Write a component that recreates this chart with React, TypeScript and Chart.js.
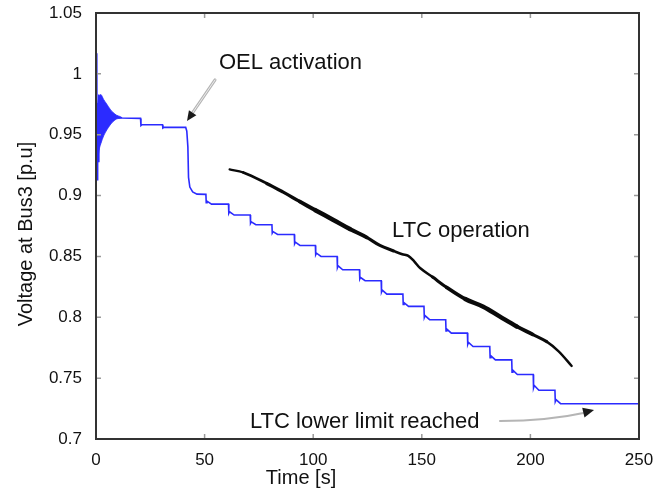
import React, { useEffect, useRef } from "react";
import { Chart, registerables } from "chart.js";

Chart.register(...registerables);

// ---- axis ticks ----
const xTicks = [0, 50, 100, 150, 200, 250];
const yTicks = [0.7, 0.75, 0.8, 0.85, 0.9, 0.95, 1, 1.05];
const yTickLabels = ["0.7", "0.75", "0.8", "0.85", "0.9", "0.95", "1", "1.05"];

// ---- initial oscillation band (envelope) ----
const oscTime = [0.6, 1.0, 1.6, 2.3, 3.5, 5, 6.5, 8, 9.5, 11, 12];
const oscHigh = [0.972, 0.978, 0.982, 0.983, 0.979, 0.975, 0.971, 0.968, 0.966, 0.965, 0.964];
const oscLow = [0.925, 0.932, 0.939, 0.943, 0.949, 0.954, 0.958, 0.961, 0.963, 0.9635, 0.964];

// ---- voltage at Bus3 (blue) ----
const blueTime = [
  0, 0.35, 0.5, 0.75, 1.0, 1.3, 2, 12, 20.5, 20.7, 21.2, 30.6, 30.8, 31.3, 41.3, 41.8, 42.3, 42.6, 43.2, 44.5, 46.5,
  50.6, 50.75, 51.1, 53.2,
  61.0, 61.15, 61.5, 63.6,
  71.0, 71.15, 71.5, 73.6,
  81.0, 81.15, 81.5, 83.6,
  91.3, 91.45, 91.8, 93.9,
  101.0, 101.15, 101.5, 103.6,
  111.0, 111.15, 111.5, 113.6,
  121.3, 121.45, 121.8, 123.9,
  131.3, 131.45, 131.8, 133.9,
  141.3, 141.45, 141.8, 143.9,
  151.0, 151.15, 151.5, 153.6,
  161.0, 161.15, 161.5, 163.6,
  171.0, 171.15, 171.5, 173.6,
  181.3, 181.45, 181.8, 183.9,
  191.4, 191.55, 191.9, 194.0,
  201.3, 201.45, 201.8, 203.9,
  211.3, 211.45, 211.8, 213.9,
  250,
];
const blueVolt = [
  1.017, 1.016, 0.913, 0.976, 0.928, 0.983, 0.965, 0.9637, 0.9634, 0.9575, 0.9582, 0.9582, 0.9555, 0.956, 0.956, 0.953, 0.94, 0.915, 0.907, 0.903, 0.9012,
  0.901, 0.8942, 0.8954, 0.893,
  0.893, 0.8854, 0.8867, 0.884,
  0.884, 0.8772, 0.8784, 0.876,
  0.876, 0.8692, 0.8704, 0.868,
  0.868, 0.8604, 0.8617, 0.859,
  0.859, 0.8514, 0.8527, 0.85,
  0.85, 0.8407, 0.8423, 0.839,
  0.839, 0.8314, 0.8327, 0.83,
  0.83, 0.8207, 0.8223, 0.819,
  0.819, 0.8105, 0.812, 0.809,
  0.809, 0.7997, 0.8013, 0.798,
  0.798, 0.7887, 0.7903, 0.787,
  0.787, 0.7777, 0.7793, 0.776,
  0.776, 0.7667, 0.7683, 0.765,
  0.765, 0.7548, 0.7566, 0.753,
  0.753, 0.742, 0.7439, 0.74,
  0.74, 0.7307, 0.7323, 0.729,
  0.729,
];

// ---- LTC operation curve (black) ----
const blackTime = [61.5, 67.8, 78.6, 86, 93.9, 101, 109.3, 116.9, 124.6, 130.7, 137, 141, 143.8, 146.5, 149.2, 155, 161.5, 170, 178.3, 186, 193.7, 201, 207.5, 213, 219];
const blackVolt = [0.9215, 0.919, 0.91, 0.903, 0.895, 0.888, 0.88, 0.8725, 0.8657, 0.859, 0.8545, 0.8518, 0.8505, 0.846, 0.8405, 0.833, 0.8245, 0.815, 0.8087, 0.8005, 0.7925, 0.786, 0.78, 0.772, 0.76];

// ---- annotations (data units) ----
const labelTexts = ["OEL activation", "LTC operation", "LTC lower limit reached"];
const labelTimes = [56.6, 136.3, 70.9];
const labelVolts = [1.004, 0.8662, 0.709];
const oelArrow = [[54.8, 0.995], [41.9, 0.9613]];
const limitArrow = [[186, 0.7148], [208, 0.7148], [229.3, 0.7238]];

const FONT = "'Liberation Sans', Arial, Helvetica, sans-serif";

const zip = (xs: number[], ys: number[]) => xs.map((x, i) => ({ x, y: ys[i] }));

function blackWidth(t: number): number {
  if (t < 72) return 2.2;
  if (t < 82) return 2.7;
  if (t < 90) return 3.3;
  if (t < 98) return 3.9;
  if (t < 120) return 4.5;
  if (t < 127) return 3.8;
  if (t < 134) return 3.1;
  if (t < 158) return 2.5;
  if (t < 165) return 3.1;
  if (t < 172) return 3.8;
  if (t < 192) return 4.5;
  if (t < 200) return 3.7;
  if (t < 210) return 3.0;
  return 2.4;
}

const decorPlugin = {
  id: "decor",
  afterDatasetsDraw(chart: any) {
    const ctx = chart.ctx as CanvasRenderingContext2D;
    const { left, right, top, bottom } = chart.chartArea;
    const xs = chart.scales.x;
    const ys = chart.scales.y;
    const px = (t: number) => xs.getPixelForValue(t);
    const py = (v: number) => ys.getPixelForValue(v);
    ctx.save();

    // inward ticks
    ctx.strokeStyle = "#9a9a9a";
    ctx.lineWidth = 1.5;
    ctx.beginPath();
    yTicks.forEach((v) => {
      const y = py(v);
      ctx.moveTo(left, y); ctx.lineTo(left + 5, y);
      ctx.moveTo(right, y); ctx.lineTo(right - 5, y);
    });
    xTicks.forEach((t) => {
      const x = px(t);
      ctx.moveTo(x, bottom); ctx.lineTo(x, bottom - 5);
      ctx.moveTo(x, top); ctx.lineTo(x, top + 5);
    });
    ctx.stroke();

    // frame
    ctx.strokeStyle = "#333";
    ctx.lineWidth = 2;
    ctx.strokeRect(left, top, right - left, bottom - top);

    // annotation texts
    ctx.fillStyle = "#111";
    ctx.font = `22px ${FONT}`;
    ctx.textAlign = "left";
    ctx.textBaseline = "alphabetic";
    labelTexts.forEach((s, i) => ctx.fillText(s, px(labelTimes[i]), py(labelVolts[i])));

    const head = (x0: number, y0: number, x1: number, y1: number, len: number, hw: number) => {
      const dx = x1 - x0, dy = y1 - y0;
      const d = Math.hypot(dx, dy);
      const ux = dx / d, uy = dy / d;
      const bx = x1 - ux * len, by = y1 - uy * len;
      ctx.fillStyle = "#1a1a1a";
      ctx.beginPath();
      ctx.moveTo(x1, y1);
      ctx.lineTo(bx - uy * hw, by + ux * hw);
      ctx.lineTo(bx + uy * hw, by - ux * hw);
      ctx.closePath();
      ctx.fill();
    };

    // OEL arrow
    {
      const x0 = px(oelArrow[0][0]), y0 = py(oelArrow[0][1]);
      const x1 = px(oelArrow[1][0]), y1 = py(oelArrow[1][1]);
      const d = Math.hypot(x1 - x0, y1 - y0);
      const ex = x0 + (x1 - x0) * (d - 7) / d, ey = y0 + (y1 - y0) * (d - 7) / d;
      ctx.lineCap = "round";
      ctx.strokeStyle = "#b5b5b5";
      ctx.lineWidth = 3;
      ctx.beginPath(); ctx.moveTo(x0, y0); ctx.lineTo(ex, ey); ctx.stroke();
      ctx.strokeStyle = "#ececec";
      ctx.lineWidth = 1;
      ctx.beginPath(); ctx.moveTo(x0, y0); ctx.lineTo(ex, ey); ctx.stroke();
      head(x0, y0, x1, y1, 10, 4.5);
    }
    // lower limit arrow
    {
      const x0 = px(limitArrow[0][0]), y0 = py(limitArrow[0][1]);
      const cx = px(limitArrow[1][0]), cy = py(limitArrow[1][1]);
      const x1 = px(limitArrow[2][0]), y1 = py(limitArrow[2][1]);
      ctx.strokeStyle = "#b5b5b5";
      ctx.lineWidth = 2;
      ctx.beginPath(); ctx.moveTo(x0, y0); ctx.quadraticCurveTo(cx, cy, x1 - 8, y1 + 2.5); ctx.stroke();
      head(cx, cy, x1, y1, 11, 5);
    }

    // axis titles
    ctx.fillStyle = "#111";
    ctx.font = `20px ${FONT}`;
    ctx.textAlign = "center";
    ctx.textBaseline = "middle";
    ctx.fillText("Time [s]", 301, 478);
    ctx.save();
    ctx.translate(26, 234);
    ctx.rotate(-Math.PI / 2);
    ctx.fillText("Voltage at Bus3 [p.u]", 0, 0);
    ctx.restore();

    ctx.restore();
  },
};

export default function App() {
  const ref = useRef<HTMLCanvasElement>(null);
  useEffect(() => {
    document.body.style.margin = "0";
    const blue = "#2b2bff";
    const chart = new Chart(ref.current as HTMLCanvasElement, {
      type: "line",
      data: {
        datasets: [
          {
            data: zip(oscTime, oscHigh),
            borderWidth: 0.8,
            borderColor: blue,
            backgroundColor: blue,
            pointRadius: 0,
            fill: "+1",
            tension: 0.3,
          },
          {
            data: zip(oscTime, oscLow),
            borderWidth: 0.8,
            borderColor: blue,
            pointRadius: 0,
            fill: false,
            tension: 0.3,
          },
          {
            data: zip(blueTime, blueVolt),
            borderColor: blue,
            borderWidth: 1.6,
            pointRadius: 0,
            fill: false,
            tension: 0,
          },
          {
            data: zip(blackTime, blackVolt),
            borderColor: "#0a0a0a",
            borderWidth: 3,
            pointRadius: 0,
            fill: false,
            tension: 0.35,
            borderCapStyle: "round",
            borderJoinStyle: "round",
            segment: {
              borderWidth: (c: any) => blackWidth((c.p0.parsed.x + c.p1.parsed.x) / 2),
              borderCapStyle: () => "round",
            },
          } as any,
        ],
      },
      options: {
        animation: false,
        responsive: false,
        devicePixelRatio: 1,
        layout: { padding: { left: 0, right: 18, top: 13, bottom: 0 } },
        plugins: {
          legend: { display: false },
          tooltip: { enabled: false },
          title: { display: false },
        },
        scales: {
          x: {
            type: "linear",
            min: 0,
            max: 250,
            grid: { display: false, drawTicks: false },
            border: { display: false },
            afterBuildTicks: (s: any) => { s.ticks = xTicks.map((v) => ({ value: v })); },
            afterFit: (s: any) => { s.height = 51; s.paddingLeft = 0; s.paddingRight = 0; },
            ticks: {
              color: "#111",
              font: { family: FONT, size: 17 },
              padding: 11,
              maxRotation: 0,
              autoSkip: false,
              callback: (v: any) => String(v),
            },
          },
          y: {
            type: "linear",
            min: 0.7,
            max: 1.05,
            grid: { display: false, drawTicks: false },
            border: { display: false },
            afterBuildTicks: (s: any) => { s.ticks = yTicks.map((v) => ({ value: v })); },
            afterFit: (s: any) => { s.width = 96; s.paddingTop = 0; s.paddingBottom = 0; },
            ticks: {
              color: "#111",
              font: { family: FONT, size: 17 },
              padding: 14,
              autoSkip: false,
              callback: (_v: any, i: number) => yTickLabels[i],
            },
          },
        },
      } as any,
      plugins: [decorPlugin],
    });
    return () => chart.destroy();
  }, []);
  return (
    <div style={{ position: "absolute", left: 0, top: 0, width: 657, height: 490, background: "#fff" }}>
      <canvas ref={ref} width={657} height={490} style={{ width: 657, height: 490, display: "block" }} />
    </div>
  );
}
